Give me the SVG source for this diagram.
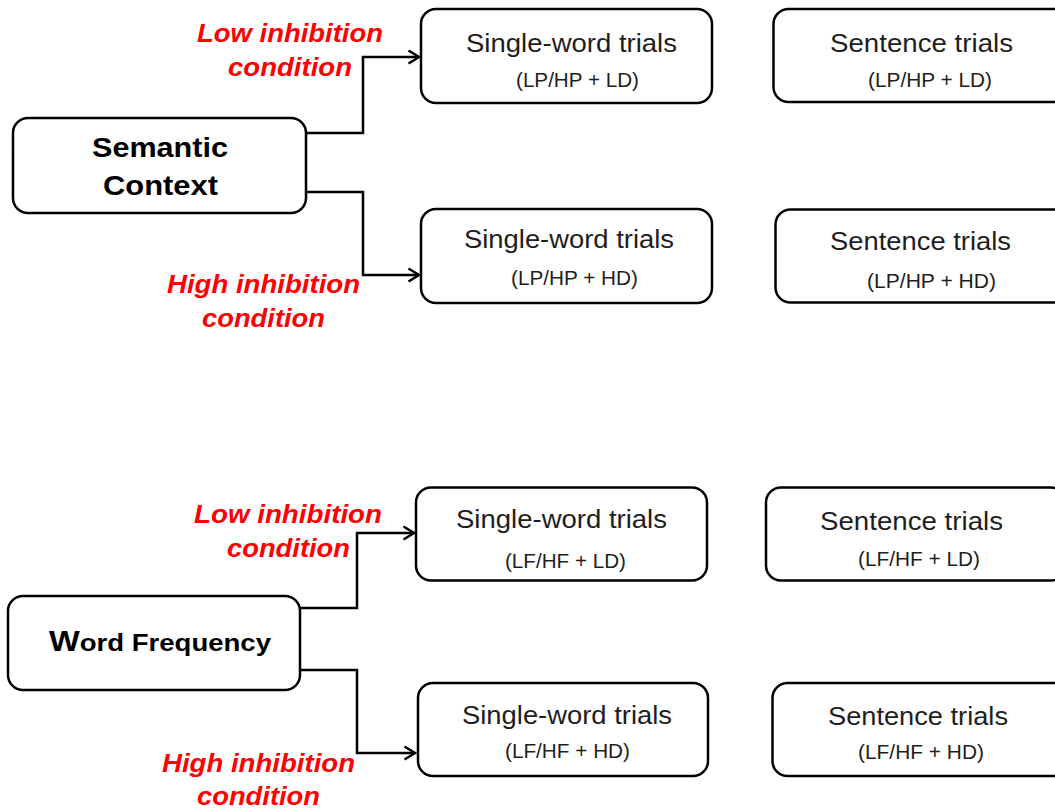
<svg xmlns="http://www.w3.org/2000/svg" width="1055" height="809" viewBox="0 0 1055 809">
  <style>
    .box { fill: #ffffff; stroke: #000000; stroke-width: 2.5; }
    .wire { fill: none; stroke: #000000; stroke-width: 2.5; }
    .main { font-family: "Liberation Sans", Arial, sans-serif; font-weight: bold; fill: #000000; }
    .title { font-family: "Liberation Sans", Arial, sans-serif; font-size: 26.5px; fill: #1e1e1e; }
    .sub { font-family: "Liberation Sans", Arial, sans-serif; font-size: 20px; fill: #1e1e1e; }
    .cond { font-family: "Liberation Sans", Arial, sans-serif; font-size: 26.5px; font-weight: bold; font-style: italic; fill: #ff0000; }
  </style>
  <defs>
    <marker id="chevron" markerUnits="userSpaceOnUse" markerWidth="14" markerHeight="16" viewBox="0 0 14 16" refX="12" refY="8" orient="auto">
      <path d="M1.5,1.5 L12,8 L1.5,14.5" fill="none" stroke="#000000" stroke-width="2.5" stroke-linejoin="miter"/>
    </marker>
  </defs>
  <rect width="1055" height="809" fill="#ffffff"/>

  <!-- connectors -->
  <g id="connectors">
    <path class="wire" d="M306,133 H363 V57 H419" marker-end="url(#chevron)"/>
    <path class="wire" d="M306,192 H363 V275 H419" marker-end="url(#chevron)"/>
    <path class="wire" d="M300,608 H357 V533 H414" marker-end="url(#chevron)"/>
    <path class="wire" d="M300,670 H357 V753 H415" marker-end="url(#chevron)"/>
  </g>

  <!-- condition labels -->
  <g id="labels">
    <text class="cond" x="197" y="42" textLength="186" lengthAdjust="spacingAndGlyphs">Low inhibition</text>
    <text class="cond" x="228" y="76" textLength="124" lengthAdjust="spacingAndGlyphs">condition</text>
    <text class="cond" x="167" y="293" textLength="193" lengthAdjust="spacingAndGlyphs">High inhibition</text>
    <text class="cond" x="202" y="327" textLength="123" lengthAdjust="spacingAndGlyphs">condition</text>
    <text class="cond" x="194" y="523" textLength="188" lengthAdjust="spacingAndGlyphs">Low inhibition</text>
    <text class="cond" x="227" y="557" textLength="123" lengthAdjust="spacingAndGlyphs">condition</text>
    <text class="cond" x="162" y="772" textLength="193" lengthAdjust="spacingAndGlyphs">High inhibition</text>
    <text class="cond" x="197" y="805" textLength="123" lengthAdjust="spacingAndGlyphs">condition</text>
  </g>

  <!-- Semantic Context branch -->
  <g id="semantic-context">
    <rect class="box" x="13" y="118" width="293" height="95" rx="15"/>
    <text class="main" x="92" y="157" font-size="28" textLength="136" lengthAdjust="spacingAndGlyphs">Semantic</text>
    <text class="main" x="103" y="195" font-size="28" textLength="115" lengthAdjust="spacingAndGlyphs">Context</text>
  </g>
  <g id="sc-single-ld">
    <rect class="box" x="421" y="9" width="291" height="94" rx="15"/>
    <text class="title" x="466" y="52" textLength="211" lengthAdjust="spacingAndGlyphs">Single-word trials</text>
    <text class="sub" x="516" y="87" textLength="123" lengthAdjust="spacingAndGlyphs">(LP/HP + LD)</text>
  </g>
  <g id="sc-single-hd">
    <rect class="box" x="421" y="209" width="291" height="94" rx="15"/>
    <text class="title" x="464" y="248" textLength="210" lengthAdjust="spacingAndGlyphs">Single-word trials</text>
    <text class="sub" x="511" y="285" textLength="127" lengthAdjust="spacingAndGlyphs">(LP/HP + HD)</text>
  </g>
  <g id="sc-sentence-ld">
    <rect class="box" x="773.5" y="9" width="300" height="93" rx="15"/>
    <text class="title" x="830" y="52" textLength="183" lengthAdjust="spacingAndGlyphs">Sentence trials</text>
    <text class="sub" x="868" y="87" textLength="124" lengthAdjust="spacingAndGlyphs">(LP/HP + LD)</text>
  </g>
  <g id="sc-sentence-hd">
    <rect class="box" x="775.5" y="209.5" width="300" height="93" rx="15"/>
    <text class="title" x="830" y="250" textLength="181" lengthAdjust="spacingAndGlyphs">Sentence trials</text>
    <text class="sub" x="867" y="288" textLength="129" lengthAdjust="spacingAndGlyphs">(LP/HP + HD)</text>
  </g>

  <!-- Word Frequency branch -->
  <g id="word-frequency">
    <rect class="box" x="8" y="596" width="292" height="94" rx="15"/>
    <text class="main" x="49" y="651" textLength="222" lengthAdjust="spacingAndGlyphs"><tspan font-size="29">W</tspan><tspan font-size="24.5">ord Frequency</tspan></text>
  </g>
  <g id="wf-single-ld">
    <rect class="box" x="416" y="487.5" width="291" height="93" rx="15"/>
    <text class="title" x="456" y="528" textLength="211" lengthAdjust="spacingAndGlyphs">Single-word trials</text>
    <text class="sub" x="505" y="568" textLength="121" lengthAdjust="spacingAndGlyphs">(LF/HF + LD)</text>
  </g>
  <g id="wf-single-hd">
    <rect class="box" x="418" y="683" width="290" height="93" rx="15"/>
    <text class="title" x="462" y="724" textLength="210" lengthAdjust="spacingAndGlyphs">Single-word trials</text>
    <text class="sub" x="505" y="758" textLength="125" lengthAdjust="spacingAndGlyphs">(LF/HF + HD)</text>
  </g>
  <g id="wf-sentence-ld">
    <rect class="box" x="766" y="487.5" width="300" height="93" rx="15"/>
    <text class="title" x="820" y="530" textLength="183" lengthAdjust="spacingAndGlyphs">Sentence trials</text>
    <text class="sub" x="858" y="566" textLength="122" lengthAdjust="spacingAndGlyphs">(LF/HF + LD)</text>
  </g>
  <g id="wf-sentence-hd">
    <rect class="box" x="772.5" y="683" width="300" height="93" rx="15"/>
    <text class="title" x="828" y="725" textLength="180" lengthAdjust="spacingAndGlyphs">Sentence trials</text>
    <text class="sub" x="858" y="759" textLength="126" lengthAdjust="spacingAndGlyphs">(LF/HF + HD)</text>
  </g>
</svg>
